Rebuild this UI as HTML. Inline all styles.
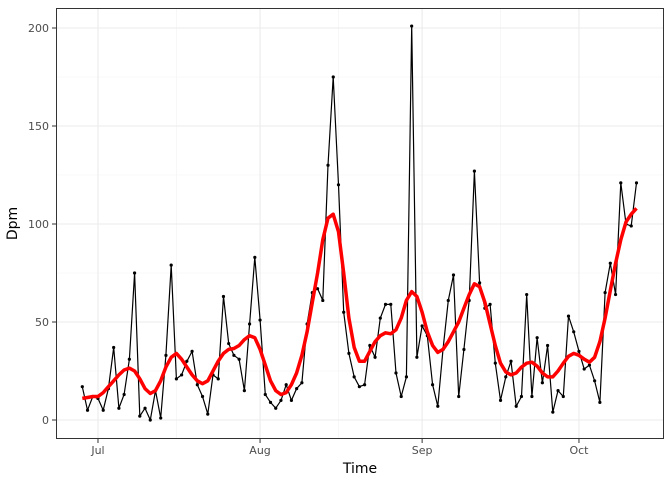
<!DOCTYPE html>
<html><head><meta charset="utf-8"><style>
body{margin:0;background:#fff;font-family:"DejaVu Sans","Liberation Sans",sans-serif}
text{font-family:"DejaVu Sans","Liberation Sans",sans-serif}
</style></head><body>
<svg id="chart" width="672" height="480" xmlns="http://www.w3.org/2000/svg"></svg>
<script>
const startDate = "2023-06-28";
const dpmValues = [17,5,12,11,5,16,37,6,13,31,75,2,6,0,15,1,33,79,21,23,30,35,18,12,3,23,21,63,39,33,31,15,49,83,51,13,9,6,10,18,10,16,19,49,65,67,61,130,175,120,55,34,22,17,18,38,32,52,59,59,24,12,22,201,32,48,43,18,7,36,61,74,12,36,61,127,70,57,59,29,10,22,30,7,12,64,12,42,19,38,4,15,12,53,45,35,26,28,20,9,65,80,64,121,100,99,121];
const smoothValues = [11,11.5,12,12,14,17,20,23,25.5,26.5,25,21,16,13.5,15,20,27,32,34,31,27,23,20,18.5,20,25,30,34,36,36.5,38,41,43,42,36,28,20,15,13,14,18,24,33,45,60,75,92,103,105,96,75,52,37,30,30,35,40,43,44.5,44,46,52,61,65.5,63,55,45,38,34.5,36,40,45,50,57,64,69.5,68,60,49,38,29,24.5,23,24,27,29,29.5,27.5,24,22,22,25,29,32.5,34,33,31,29.5,32,40,52,66,80,92,101,105,108];
const yTicks = [0,50,100,150,200];
const yMinor = [25,75,125,175];
const xTickLabels = ["Jul","Aug","Sep","Oct"];
const xTickDates = ["2023-07-01","2023-08-01","2023-09-01","2023-10-01"];
const xMinorDates = ["2023-07-16","2023-08-16","2023-09-16"];

const NS="http://www.w3.org/2000/svg";
const svg=document.getElementById('chart');
const L=56,R=664,T=8,B=439;
const day=d=>(new Date(d+"T00:00:00Z")-new Date(startDate+"T00:00:00Z"))/864e5;
const x=i=>82.3+i*5.228;
const xd=d=>x(day(d));
const y=v=>420-v*1.96;
function mk(t,a,p){const e=document.createElementNS(NS,t);for(const k in a)e.setAttribute(k,a[k]);(p||svg).appendChild(e);return e;}

const grid=mk('g',{});


yMinor.forEach(v=>mk('line',{x1:L,x2:R,y1:y(v),y2:y(v),stroke:'#f2f2f2','stroke-width':0.6},grid));
xMinorDates.forEach(d=>mk('line',{x1:xd(d),x2:xd(d),y1:T,y2:B,stroke:'#f2f2f2','stroke-width':0.6},grid));
yTicks.forEach(v=>mk('line',{x1:L,x2:R,y1:y(v),y2:y(v),stroke:'#ebebeb','stroke-width':1.1},grid));
xTickDates.forEach(d=>mk('line',{x1:xd(d),x2:xd(d),y1:T,y2:B,stroke:'#ebebeb','stroke-width':1.1},grid));

const pts=dpmValues.map((v,i)=>x(i).toFixed(1)+','+y(v).toFixed(1)).join(' ');
const line=mk('polyline',{points:pts,fill:'none',stroke:'#000','stroke-width':1.2});


const dots=mk('g',{});


dpmValues.forEach((v,i)=>{
  const c=mk('circle',{cx:x(i),cy:y(v),r:1.6,fill:'#000'},dots);
  
  
});
const sp=smoothValues.map((v,i)=>x(i).toFixed(1)+','+y(v).toFixed(1)).join(' ');
const sm=mk('polyline',{points:sp,fill:'none',stroke:'#ff0000','stroke-width':3.5,'stroke-linejoin':'round'});



const frame=mk('rect',{x:L+0.5,y:T+0.5,width:R-L-1,height:B-T-1,fill:'none',stroke:'#333','stroke-width':1});



yTicks.forEach(v=>{
  mk('line',{x1:L-4,x2:L,y1:y(v),y2:y(v),stroke:'#333','stroke-width':1});
  const t=mk('text',{x:L-7,y:y(v)+4,'text-anchor':'end','font-size':11,fill:'#4d4d4d'});
  t.textContent=v;
  
  
});
xTickDates.forEach((d,i)=>{
  mk('line',{x1:xd(d),x2:xd(d),y1:B,y2:B+4,stroke:'#333','stroke-width':1});
  const t=mk('text',{x:xd(d),y:B+15,'text-anchor':'middle','font-size':11,fill:'#4d4d4d'});
  t.textContent=xTickLabels[i];
  
  
});
const xt=mk('text',{x:(L+R)/2,y:473,'text-anchor':'middle','font-size':14,fill:'#000'});
xt.textContent='Time';


const yt=mk('text',{x:17,y:(T+B)/2,'text-anchor':'middle','font-size':14,fill:'#000',transform:`rotate(-90 17 ${(T+B)/2})`});
yt.textContent='Dpm';


</script>
</body></html>
